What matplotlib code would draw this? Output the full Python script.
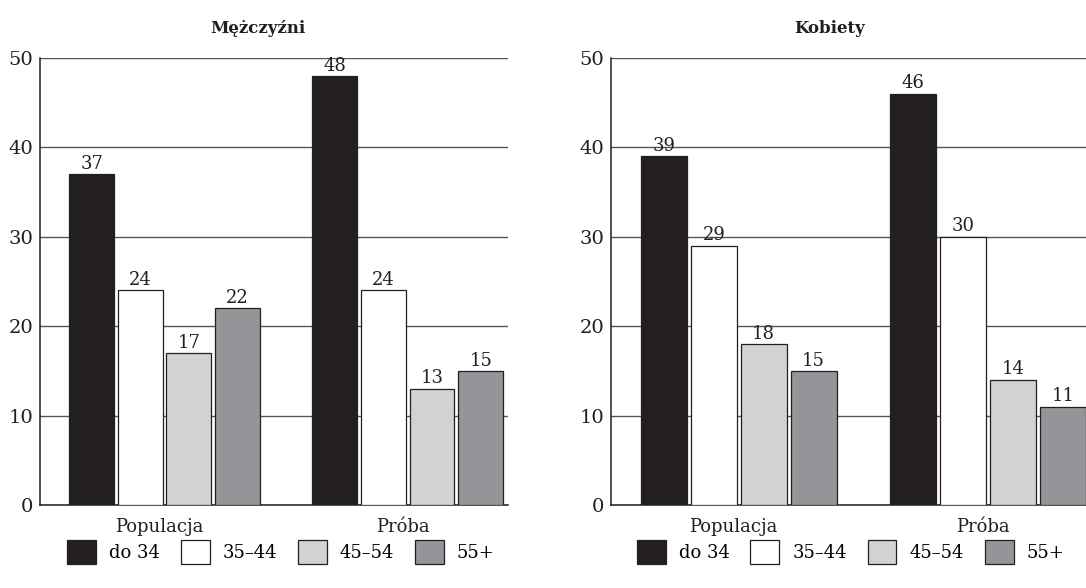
import matplotlib
matplotlib.use("Agg")
import matplotlib.pyplot as plt
import matplotlib.transforms as mtransforms
import numpy as np

plt.rcParams['font.family'] = ['DejaVu Serif']

groups = ["Populacja", "Próba"]
age_bands = ["do 34", "35–44", "45–54", "55+"]
men = {"do 34": [37, 48], "35–44": [24, 24], "45–54": [17, 13], "55+": [22, 15]}
women = {"do 34": [39, 46], "35–44": [29, 30], "45–54": [18, 14], "55+": [15, 11]}
panel_titles = ["Mężczyźni", "Kobiety"]
colors = ["#231f20", "#ffffff", "#d1d2d4", "#939598"]

W, H = 1086, 588
fig = plt.figure(figsize=(W / 100, H / 100), dpi=100)

def px_axes(left, right, top, bottom):
    return fig.add_axes([left / W, 1 - bottom / H, (right - left) / W, (bottom - top) / H])

axes = [px_axes(40, 508, 58, 505), px_axes(611, 1091, 58, 505)]
title_x = [0.466, 0.456]
legend_x = [0.058, 0.054]

group_gap = 5.0
bar_w = 0.92

for ax, data, title, tx, lx in zip(axes, [men, women], panel_titles, title_x, legend_x):
    handles = []
    for i, band in enumerate(age_bands):
        xs = np.arange(len(groups)) * group_gap + i
        bars = ax.bar(xs, data[band], width=bar_w, color=colors[i],
                      edgecolor="#231f20", linewidth=0.9, zorder=3, label=band)
        handles.append(bars)
        for x, v in zip(xs, data[band]):
            ax.text(x, v + 0.15, str(v), ha="center", va="bottom",
                    fontsize=13, color="#231f20", zorder=4)
    ax.set_xlim(-1.06, 3 + group_gap + 0.56)
    ax.set_ylim(0, 50)
    ax.set_yticks([0, 10, 20, 30, 40, 50])
    ax.yaxis.grid(True, color="#555555", linewidth=1.0, zorder=0)
    ax.set_axisbelow(True)
    ax.set_xticks(np.arange(len(groups)) * group_gap + 1.5)
    ax.set_xticklabels(groups)
    ax.tick_params(axis="both", length=0, colors="#231f20")
    ax.tick_params(axis="y", pad=5, labelsize=14)
    ax.tick_params(axis="x", pad=9, labelsize=13)
    shift = mtransforms.ScaledTranslation(-5 / 100, 0, fig.dpi_scale_trans)
    for lab in ax.get_xticklabels():
        lab.set_transform(lab.get_transform() + shift)
    for s in ["top", "right"]:
        ax.spines[s].set_visible(False)
    for s in ["left", "bottom"]:
        ax.spines[s].set_linewidth(1.1)
        ax.spines[s].set_color("#231f20")
    ax.set_title(title, x=tx, y=1.0, pad=18, fontsize=12, fontweight="bold",
                 color="#231f20")
    ax.legend(handles=handles, labels=age_bands, loc="center left",
              bbox_to_anchor=(lx, -0.105), ncol=4, frameon=False,
              fontsize=13, handlelength=1.6, handleheight=1.6,
              handletextpad=0.72, columnspacing=1.15, borderaxespad=0,
              borderpad=0)

fig.savefig("out.png", dpi=100)
